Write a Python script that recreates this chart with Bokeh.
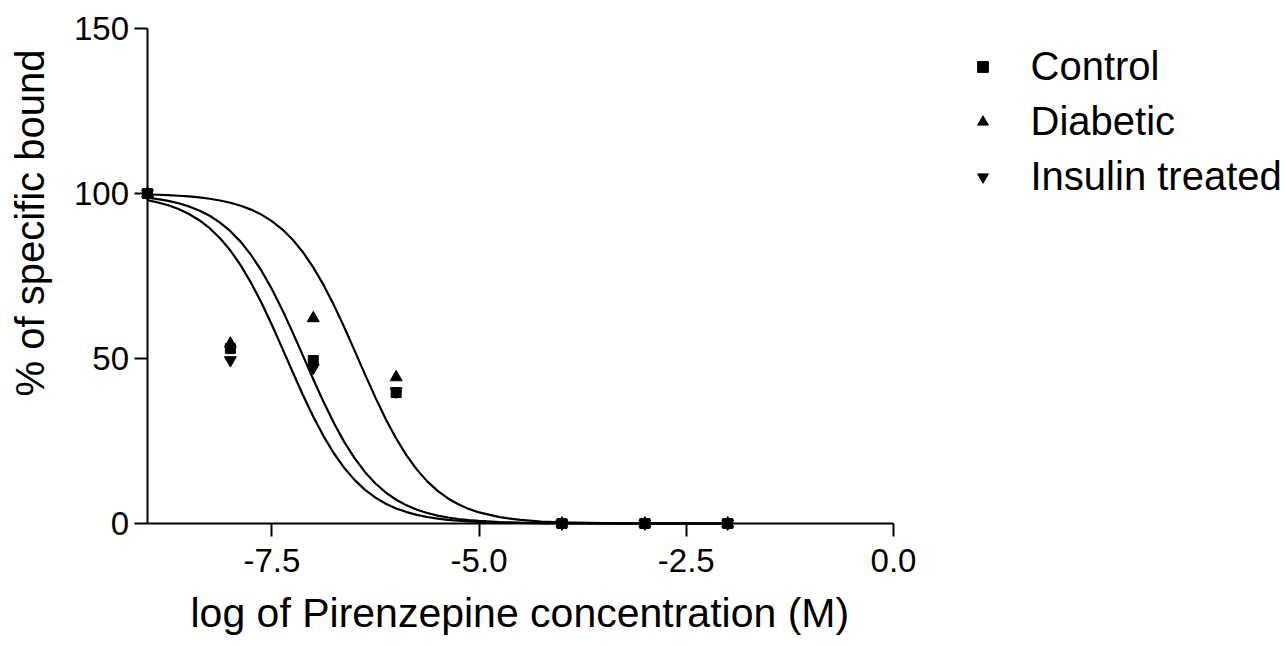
from bokeh.plotting import figure
from bokeh.models import (Range1d, LinearAxis, FixedTicker, Legend, LegendItem,
                          Title, Grid)
from bokeh.core.properties import value
from bokeh.embed import file_html
from bokeh.resources import INLINE

# ---------------- data ----------------
series_names = ["Control", "Diabetic", "Insulin treated"]
log_conc = [-9, -8, -7, -6, -4, -3, -2]
control = [100, 53.0, 49.4, 39.7, 0, 0, 0]
diabetic = [100, 54.5, 62.2, 44.3, 0, 0, 0]
insulin = [100, 49.5, 47.2, 40.0, 0, 0, 0]

# fitted curves, values
curve_x = [-9, -8.875, -8.75, -8.625, -8.5, -8.375, -8.25, -8.125, -8, -7.875,
           -7.75, -7.625, -7.5, -7.375, -7.25, -7.125, -7, -6.875, -6.75, -6.625,
           -6.5, -6.375, -6.25, -6.125, -6, -5.875, -5.75, -5.625, -5.5, -5.375,
           -5.25, -5.125, -5, -4.75, -4.5, -4.25, -4, -3.5, -3, -2.5, -2]
curve_control = [98.73, 98.31, 97.76, 97.04, 96.09, 94.85, 93.25, 91.19, 88.59, 85.34,
                 81.36, 76.60, 71.05, 64.80, 57.99, 50.86, 43.70, 36.79, 30.39, 24.66,
                 19.71, 15.55, 12.13, 9.38, 7.20, 5.50, 4.18, 3.17, 2.40, 1.81,
                 1.36, 1.02, 0.77, 0.43, 0.24, 0.14, 0.08, 0.03, 0.01, 0.0, 0.0]
curve_diabetic = [99.71, 99.62, 99.49, 99.32, 99.10, 98.80, 98.40, 97.88, 97.20, 96.30,
                  95.12, 93.60, 91.64, 89.16, 86.04, 82.22, 77.62, 72.22, 66.10, 59.39,
                  52.30, 45.12, 38.14, 31.62, 25.75, 20.64, 16.32, 12.76, 9.88, 7.60,
                  5.81, 4.42, 3.35, 1.91, 1.08, 0.61, 0.35, 0.11, 0.04, 0.01, 0.0]
curve_insulin = [97.95, 97.29, 96.42, 95.28, 93.80, 91.90, 89.49, 86.45, 82.72, 78.21,
                 72.91, 66.87, 60.22, 53.16, 45.98, 38.96, 32.37, 26.41, 21.21, 16.79,
                 13.15, 10.19, 7.84, 6.00, 4.57, 3.46, 2.62, 1.98, 1.49, 1.12,
                 0.84, 0.64, 0.48, 0.27, 0.15, 0.09, 0.05, 0.02, 0.0, 0.0, 0.0]

x_ticks = [-7.5, -5.0, -2.5, 0.0]
x_tick_labels = ["-7.5", "-5.0", "-2.5", "0.0"]
y_ticks = [0, 50, 100, 150]
y_tick_labels = ["0", "50", "100", "150"]
x_title = "log of Pirenzepine concentration (M)"
y_title = "% of specific bound"

FONT = "Liberation Sans"

# ---------------- layout geometry (pixels) ----------------
W, H = 1285, 646
FL, FB = 51, 587            # frame left / bottom (frame covers the rest)
PX_X0, PX_X9 = 893, 147     # pixel of x=0 and x=-9
PX_Y0, PX_Y150 = 523, 28    # pixel of y=0 and y=150
kx = (PX_X0 - PX_X9) / 9.0
ky = (PX_Y0 - PX_Y150) / 150.0
x_start = -9 - (PX_X9 - FL) / kx
x_end = (W - PX_X0) / kx
y_start = -(FB - PX_Y0) / ky
y_end = 150 + PX_Y150 / ky

p = figure(width=W, height=H,
           x_range=Range1d(x_start, x_end), y_range=Range1d(y_start, y_end),
           x_axis_location=None, y_axis_location=None,
           toolbar_location=None, output_backend="svg",
           min_border_left=FL, min_border_right=0,
           min_border_top=0, min_border_bottom=H - FB,
           outline_line_color=None)
p.background_fill_color = "white"
p.border_fill_color = "white"
for g in p.select(type=Grid):
    g.visible = False

def style_axis(ax):
    ax.axis_line_width = 2
    ax.axis_line_color = "black"
    ax.major_tick_line_width = 2
    ax.major_tick_line_color = "black"
    ax.major_tick_in = 0
    ax.major_tick_out = 13
    ax.minor_tick_line_color = None
    ax.major_label_text_font_size = "1px"
    ax.major_label_text_color = None
    ax.major_label_standoff = 0

xaxis = LinearAxis(fixed_location=0, bounds=(-9, 0), ticker=FixedTicker(ticks=x_ticks))
style_axis(xaxis)
p.add_layout(xaxis, "below")

yaxis = LinearAxis(fixed_location=-9, bounds=(0, 150), ticker=FixedTicker(ticks=y_ticks))
style_axis(yaxis)
p.add_layout(yaxis, "left")

# tick labels (placed at the tick values)
p.text(x=x_ticks, y=[0] * len(x_ticks), text=x_tick_labels,
       text_align="center", text_baseline="alphabetic", y_offset=37,
       text_font=value(FONT), text_font_size="33px", text_color="black")
p.text(x=[-9] * len(y_ticks), y=y_ticks, text=y_tick_labels,
       text_align="right", text_baseline="alphabetic", x_offset=-18.5, y_offset=0,
       text_font=value(FONT), text_font_size="33px", text_color="black")

# fitted curves
for cy in (curve_insulin, curve_control, curve_diabetic):
    p.line(curve_x, cy, line_color="black", line_width=2.2)

# data points
r_ins = p.scatter(log_conc, insulin, marker="inverted_triangle", size=12,
                  fill_color="black", line_color="black")
r_dia = p.scatter(log_conc, diabetic, marker="triangle", size=12,
                  fill_color="black", line_color="black")
r_con = p.scatter(log_conc, control, marker="square", size=10,
                  fill_color="black", line_color="black")

legend = Legend(items=[LegendItem(label=series_names[0], renderers=[r_con]),
                       LegendItem(label=series_names[1], renderers=[r_dia]),
                       LegendItem(label=series_names[2], renderers=[r_ins])],
                location=(968.5 - FL, FB - 199), padding=0, margin=0, spacing=10,
                glyph_width=27, glyph_height=27, label_standoff=35,
                label_text_font=FONT, label_text_font_size="40px",
                label_text_color="black",
                border_line_color=None, background_fill_alpha=0)
p.add_layout(legend)

p.add_layout(Title(text=x_title, align="left", offset=190 - FL, standoff=0,
                   text_font=FONT, text_font_size="41px", text_font_style="normal",
                   text_color="black"), "below")
p.add_layout(Title(text=y_title, align="left", offset=FB - 396, standoff=0,
                   text_font=FONT, text_font_size="40px", text_font_style="normal",
                   text_color="black"), "left")

open("out.html", "w").write(file_html(p, INLINE))
